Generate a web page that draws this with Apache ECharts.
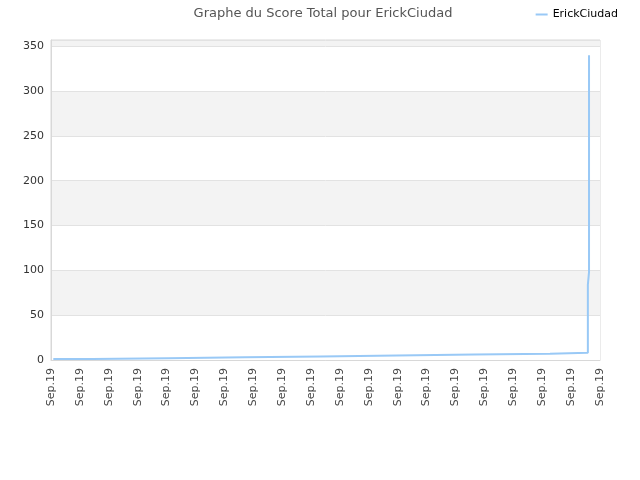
<!DOCTYPE html>
<html>
<head>
<meta charset="utf-8">
<script src="https://cdn.jsdelivr.net/npm/echarts@6/dist/echarts.min.js"></script>
<style>html,body{margin:0;padding:0;background:#fff;}#c{width:640px;height:480px;}</style>
</head>
<body>
<div id="c"></div>
<script>
// Time positions (in axis-label units, 0..19) and total score values
var timePos = [0.08, 1.42, 4.05, 6.71, 9.34, 11.97, 14.64, 17.27, 18.58, 18.58, 18.58, 18.58, 18.62, 18.62, 18.62, 18.62, 18.62, 18.62, 18.62];
var scores  = [1, 2, 3, 4, 5, 6, 7, 8, 23, 42, 69, 84, 98, 130, 167, 206, 247, 292, 340];
var tickLabels = ['Sep.19','Sep.19','Sep.19','Sep.19','Sep.19','Sep.19','Sep.19','Sep.19','Sep.19','Sep.19','Sep.19','Sep.19','Sep.19','Sep.19','Sep.19','Sep.19','Sep.19','Sep.19','Sep.19','Sep.19'];
var seriesName = 'ErickCiudad';
var titleText = 'Graphe du Score Total pour ErickCiudad';

// build a step path: hold each score until the next time position
var data = [];
for (var i = 0; i < timePos.length; i++) {
  data.push([timePos[i], scores[i]]);
  if (i + 1 < timePos.length && timePos[i + 1] !== timePos[i]) {
    data.push([timePos[i + 1], scores[i]]);
  }
}
var chart = echarts.init(document.getElementById('c'));
chart.setOption({
  animation: false,
  textStyle: {fontFamily: 'DejaVu Sans'},
  title: {
    text: titleText, left: 318, top: 2, textAlign: 'center',
    textStyle: {fontSize: 13, fontWeight: 'normal', color: '#555', fontFamily: 'DejaVu Sans'}
  },
  legend: {
    data: [seriesName], right: 17, top: 4, icon: 'rect', itemWidth: 12, itemHeight: 2, itemGap: 8,
    textStyle: {fontSize: 11, color: '#000', fontFamily: 'DejaVu Sans'}
  },
  grid: {left: 51, right: 40, top: 40, bottom: 120, show: true, borderColor: '#d8d8d8', borderWidth: 1, backgroundColor: 'transparent'},
  xAxis: {
    type: 'value', min: 0, max: 19, interval: 1,
    axisLine: {show: true, lineStyle: {color: '#d8d8d8'}},
    axisTick: {show: false},
    splitLine: {show: false},
    axisLabel: {
      rotate: 90, fontSize: 11, color: '#444', margin: 8, showMinLabel: true, showMaxLabel: true,
      formatter: function(v){ return tickLabels[Math.round(v)] || ''; }
    }
  },
  yAxis: {
    type: 'value', min: 0, max: 357, interval: 50,
    axisLine: {show: true, lineStyle: {color: '#d8d8d8'}},
    axisTick: {show: false},
    splitLine: {show: true, lineStyle: {color: '#e2e2e2'}},
    splitArea: {show: true, areaStyle: {color: ['#ffffff', '#f3f3f3']}},
    axisLabel: {fontSize: 11, color: '#333', margin: 7, showMaxLabel: false}
  },
  series: [{
    name: seriesName, type: 'line', data: data,
    showSymbol: false, symbol: 'none',
    lineStyle: {color: '#99c9f6', width: 2},
    itemStyle: {color: '#99c9f6'}
  }]
});
</script>
</body>
</html>
